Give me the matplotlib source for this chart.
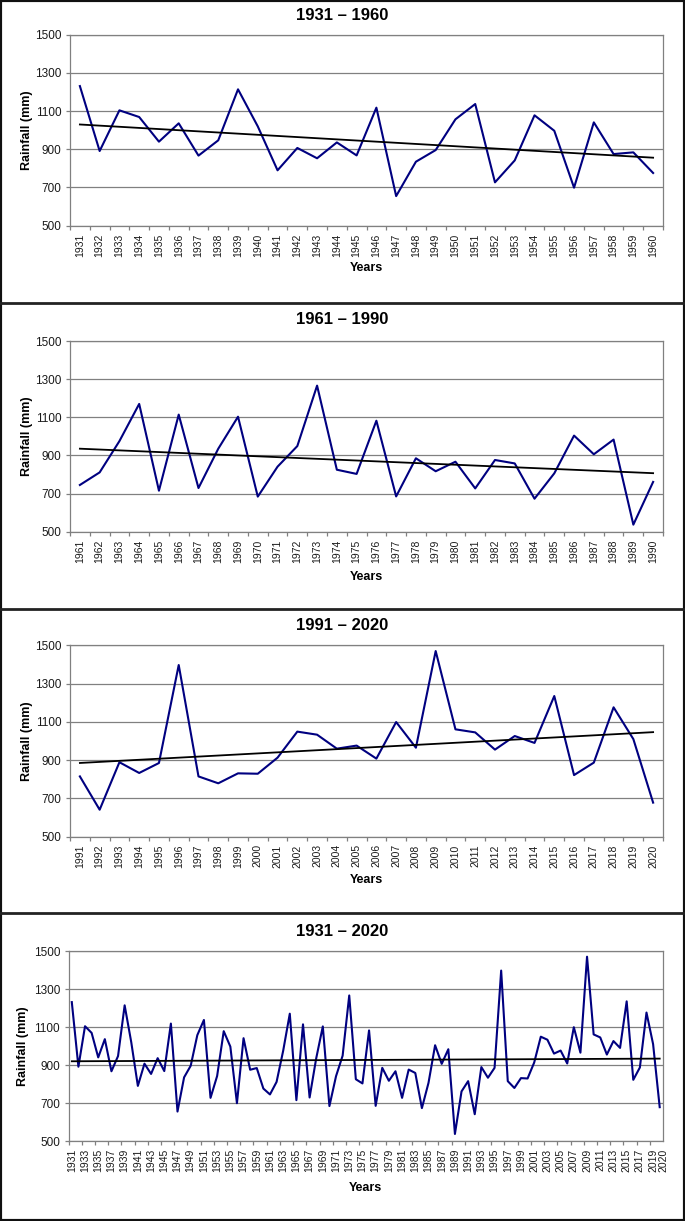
import numpy as np
import matplotlib.pyplot as plt
from matplotlib.lines import Line2D
from matplotlib.patches import Rectangle

plt.rcParams['font.family'] = ['Liberation Sans', 'DejaVu Sans']

# annual rainfall (mm)
years_a = list(range(1931, 1961))
rain_a = [1231, 891, 1104, 1069, 940, 1036, 867, 947, 1214, 1020,
          790, 907, 853, 936, 868, 1118, 655, 835, 896, 1057,
          1137, 727, 842, 1078, 997, 699, 1041, 875, 884, 776]

years_b = list(range(1961, 1991))
rain_b = [745, 811, 975, 1170, 715, 1114, 729, 935, 1103, 684,
          841, 949, 1266, 825, 803, 1082, 685, 885, 817, 867,
          727, 876, 858, 673, 806, 1004, 906, 983, 537, 761]

years_c = list(range(1991, 2021))
rain_c = [815, 641, 889, 833, 885, 1397, 815, 779, 831, 829,
          913, 1049, 1033, 960, 976, 908, 1099, 965, 1470, 1061,
          1045, 955, 1026, 990, 1235, 822, 887, 1176, 1010, 678]

years_all = years_a + years_b + years_c
rain_all = rain_a + rain_b + rain_c

W, H = 685, 1221
fig = plt.figure(figsize=(W / 100, H / 100), dpi=100)


def fx(px):
    return px / W


def fy(py):
    return 1 - py / H


# (years, rain, title, plot box in px (left, right, top, bottom), title y, "Years" y, label step, ylabel x)
panels = [
    (years_a, rain_a, '1931 – 1960', (70, 663, 34.7, 225.7), 16, 268, 1, 27),
    (years_b, rain_b, '1961 – 1990', (70, 663, 341, 531.7), 320, 577, 1, 27),
    (years_c, rain_c, '1991 – 2020', (70, 663, 645.3, 836.7), 625, 880, 1, 27),
    (years_all, rain_all, '1931 – 2020', (68.5, 663, 951, 1141), 931, 1188, 2, 23),
]

for years, rain, title, (l, r, t, b), ty, yy, step, ylx in panels:
    ax = fig.add_axes([fx(l), fy(b), (r - l) / W, (b - t) / H])
    x = np.array(years)
    y = np.array(rain)
    ax.plot(x, y, color='#000080', lw=1.5, zorder=3)
    # linear trend
    k, c = np.polyfit(x, y, 1)
    ax.plot(x, k * x + c, color='black', lw=1.3, zorder=4)

    ax.set_xlim(x[0] - 0.5, x[-1] + 0.5)
    ax.set_ylim(500, 1500)
    ax.set_yticks(range(500, 1501, 200))
    ax.yaxis.grid(True, color='#808080', lw=0.9)
    ax.set_axisbelow(True)
    for s in ax.spines.values():
        s.set_color('#808080')
        s.set_linewidth(0.9)

    ticks = list(x[::step])
    labels = [str(v) for v in ticks]
    if step == 2:
        ticks.append(x[-1] + 0.5)
        labels.append(str(x[-1]))
    ax.set_xticks(ticks)
    ax.set_xticklabels(labels, rotation=90, fontsize=7.5, color='#1a1a1a')
    ax.set_xticks(np.arange(x[0] - 0.5, x[-1] + 1, step), minor=True)
    ax.tick_params(axis='x', which='major', length=0, pad=5.5)
    ax.tick_params(axis='x', which='minor', length=3, color='#808080', width=0.9)
    ax.tick_params(axis='y', length=3, color='#808080', width=0.9, pad=3,
                   labelsize=8.5, labelcolor='#1a1a1a')

    fig.text(0.5, fy(ty), title, ha='center', va='center', fontsize=12, weight='bold')
    fig.text(fx(ylx), fy((t + b) / 2), 'Rainfall (mm)', rotation=90, ha='center',
             va='center', fontsize=9, weight='bold')
    fig.text(fx((l + r) / 2), fy(yy), 'Years', ha='center', va='center',
             fontsize=9, weight='bold')

# panel frames
fig.add_artist(Rectangle((0, 0), 1, 1, transform=fig.transFigure, fill=False,
                         ec='#111111', lw=3))
for sep in [303, 609, 913]:
    fig.add_artist(Line2D([0, 1], [fy(sep), fy(sep)], transform=fig.transFigure,
                          color='#222222', lw=2))

fig.savefig('out.png', dpi=100)
